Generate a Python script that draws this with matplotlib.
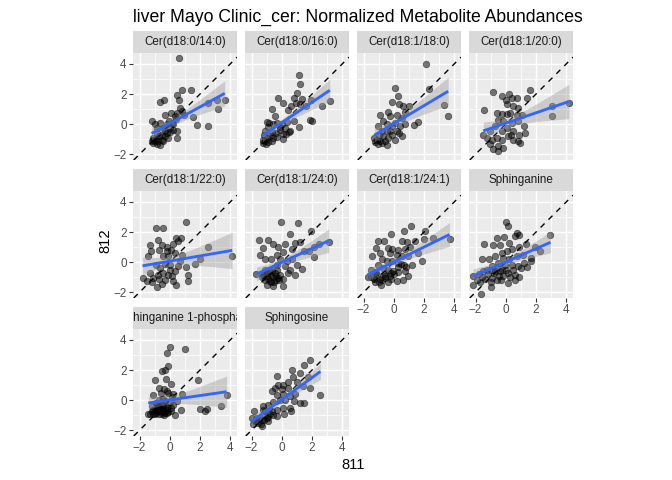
import numpy as np
import matplotlib
matplotlib.use('Agg')
import matplotlib.pyplot as plt

plt.rcParams['font.family'] = ['Liberation Sans', 'DejaVu Sans']

# ---------------------------------------------------------------- data
panel_titles = [
    'Cer(d18:0/14:0)', 'Cer(d18:0/16:0)', 'Cer(d18:1/18:0)', 'Cer(d18:1/20:0)',
    'Cer(d18:1/22:0)', 'Cer(d18:1/24:0)', 'Cer(d18:1/24:1)', 'Sphinganine',
    'Sphinganine 1-phosphate', 'Sphingosine',
]

p1_x = [0.64, -0.64, -0.4, 0.82, 1.42, 0.51, 0.64, 0.69, 0.8, 0.47, 0.07, -0.31,
        3.13, 3.64, 2.51, 3.18, 2.56, 1.8, 1.51, 0.96, 0.36, -1.16, -0.98, -0.64,
        -0.2, 0.13, 0.42, 0.24, 0.47, 0.02, -0.31, -0.53, -0.87, -1.09, -1.2, -0.98,
        -0.76, -0.53, -0.31, -0.2, -0.09, -0.64, -0.87, -1.09, -0.42, -0.47, -0.82,
        -0.69, 0.02, -0.04, 0.24, -1.1, -0.91, 0.47]
p1_y = [4.42, 1.49, 1.58, 2.29, 2.29, 1.93, 1.58, 1.07, 0.87, 0.71, 0.71, 0.58,
        1.62, 1.64, 1.4, 1.0, -0.11, -0.07, 0.47, 0.64, 0.53, 0.24, -0.02, 0.09,
        -0.02, 0.09, 0.33, -0.36, -0.91, -0.51, -0.42, -0.69, -0.58, -0.91, -1.13, -1.13,
        -1.09, -1.02, -0.8, -0.58, -0.91, -1.36, -1.31, -1.24, -1.13, -0.24, -0.24,
        -0.8, -0.24, 0.24, -0.02, -1.02, -0.96, -0.42]

p2_x = [1.11, 1.22, 1.04, -0.22, 0.07, 0.78, 0.96, 1.33, 0.6, 0.44, 1.18, 1.58,
        1.93, 3.18, 2.69, 1.89, 2.0, -0.67, -0.44, -1.0, -0.82, -0.33, 0.0, 0.33,
        0.78, 1.11, 0.51, 0.11, 0.07, 0.56, -0.11, -0.38, -0.67, -0.89, -1.11, -1.18,
        -1.27, -1.11, -0.89, -0.67, -0.56, -1.0, -0.78, -0.33, -1.27, -1.04, 0.29,
        -0.11, 0.22, -0.56]
p2_y = [3.27, 2.64, 2.09, 1.76, 1.4, 1.76, 1.4, 1.69, 1.24, 0.96, 1.36, 1.24,
        1.64, 1.53, 1.2, 0.31, 0.24, 1.02, 0.53, 0.16, 0.07, 0.09, 0.02, 0.16,
        0.2, -0.18, -0.51, -0.64, -0.98, -0.42, -0.36, -0.58, -0.51, -0.2, -0.47, -0.69,
        -1.02, -1.13, -1.18, -1.09, -0.91, -0.91, -0.8, -0.87, -1.24, -1.31, -0.64,
        -0.2, -0.24, -0.02]

p3_x = [2.13, 2.36, 0.09, -0.13, 0.31, 0.36, 0.64, 1.02, 3.31, 3.6, 1.6, 1.33,
        -0.91, -0.4, -0.24, 0.2, 0.53, 0.76, 0.09, 0.42, -0.13, -0.47, -0.69, -1.02,
        -0.8, -0.47, -0.13, 0.2, -0.36, -0.69, -1.13, -1.24, -1.02, -0.8, -0.91, -0.58,
        -1.29, -0.24, 0.76, 0.36, 0.09, -0.47, -0.98, 0.53]
p3_y = [3.98, 2.31, 2.38, 1.49, 1.87, 1.31, 1.2, 1.2, 1.27, 0.53, 0.16, -0.07,
        0.64, 0.82, 0.53, 0.64, 0.42, 0.82, 0.09, -0.13, -0.13, -0.02, 0.2, -0.13,
        -0.47, -0.47, -0.69, -0.42, -0.91, -0.8, -1.02, -1.18, -1.31, -1.24, -1.09, -1.13,
        -0.91, -0.42, -0.02, -0.58, -1.02, -1.4, -0.69, -0.8]

p4_x = [-0.82, -0.27, 0.0, 0.22, 0.4, 0.73, 1.62, 1.4, 0.07, 0.51, 0.84, -1.42,
        -0.6, -0.27, 0.07, 0.29, 0.73, 1.07, 3.07, 3.07, 4.18, -0.53, -0.16, 0.4,
        0.84, 1.18, 1.29, 0.89, 0.51, 0.07, -0.27, -0.71, -1.04, -1.49, -1.27, -0.93,
        -0.6, -0.27, 0.13, 0.51, 0.8, 0.96, -0.49, -0.82, -0.53, -0.16, -1.04, 0.36]
p4_y = [2.16, 1.87, 1.64, 1.98, 1.71, 1.76, 2.24, 1.76, 1.31, 1.2, 1.09, 0.93,
        0.76, 0.69, 0.69, 0.76, 0.6, 0.64, 1.2, 0.53, 1.38, 0.31, 0.2, 0.09,
        0.2, -0.13, -0.58, -0.69, -0.42, -0.24, -0.42, -0.13, -0.42, -0.69, -0.91, -1.02,
        -0.91, -1.02, -0.8, -1.02, -1.13, -1.24, -1.47, -1.62, -1.8, -1.58, -1.31, -0.69]

p5_x = [1.09, -0.93, -0.42, -0.76, -1.31, -1.27, -1.42, -0.53, -0.2, -0.69, 0.42, 0.73,
        0.58, 0.24, 0.07, -0.2, -0.09, -0.42, 0.36, 0.8, 2.53, 1.98, 1.69, 4.13,
        1.09, 1.18, 1.18, 0.58, 0.36, 0.02, -0.31, -0.64, -0.91, -1.31, -1.13, -0.76,
        -0.42, -0.09, 0.13, 0.24, 0.42, -0.69, -0.53, -0.87, -1.2, -1.8, -1.53, -0.31,
        0.02, 0.69]
p5_y = [2.69, 2.24, 2.24, 1.47, 1.11, 0.73, 0.4, 1.11, 1.02, 0.84, 1.62, 1.62,
        1.4, 1.18, 0.84, 0.73, 0.4, 0.4, 0.62, 0.51, 1.02, 0.24, -0.11, 0.4,
        -0.31, -0.82, -1.27, -0.27, -0.6, -0.16, -0.09, -0.38, -0.22, -0.71, -1.04, -0.82,
        -0.71, -0.82, -0.93, -1.27, -1.49, -1.11, -1.42, -1.67, -1.33, -1.04, -1.27, -1.16,
        -0.49, 0.07]

p6_x = [-0.04, 1.07, 0.56, 1.93, -1.49, -0.89, -0.56, -1.22, -1.44, -0.22, 0.22, 0.89,
        1.22, 0.67, 1.49, 1.78, 2.11, 2.44, 3.11, 2.16, 0.07, -0.33, -0.73, -1.11,
        -0.11, 0.33, 0.67, 1.0, 1.33, 0.89, 0.56, 0.22, -0.33, -0.67, -1.11, -1.27,
        -1.0, -0.73, -0.44, -0.11, 0.11, -0.38, -0.78, -1.0, -0.56, 0.07, -1.67, -0.22,
        0.44, -1.3, -1.1, -0.9, -0.8, -0.6, -0.5, -1.2, -0.4, -0.2, -1.0, -0.7, -0.3]
p6_y = [2.69, 2.62, 1.84, 2.07, 1.47, 1.47, 1.18, 0.96, 0.51, 1.02, 1.18, 1.29,
        1.33, 0.89, 0.73, 0.73, 1.02, 1.18, 1.33, 0.36, 0.67, 0.51, 0.22, 0.18,
        0.18, 0.07, 0.18, -0.22, -0.44, -0.82, -0.49, -0.27, -0.22, -0.49, -0.49, -0.82,
        -0.93, -0.82, -0.71, -0.82, -1.11, -1.16, -1.27, -1.49, -1.56, -1.56, -0.76, -1.04,
        -0.71, -1.0, -1.2, -1.1, -0.6, -1.0, -1.3, -0.7, -0.9, -1.2, -0.75, -1.35, -0.5]

p7_x = [1.16, 0.71, 2.09, 2.58, 3.69, 1.98, -0.18, -1.07, -0.62, 0.53, 0.87, 1.38,
        -1.2, -0.4, -0.09, 0.31, 0.76, 1.09, -1.47, -0.91, -0.24, 0.2, 0.53, 0.93,
        1.6, 1.87, -0.8, -0.47, -0.09, 0.31, 0.71, -1.02, -1.51, -1.2, -0.69, -0.36,
        -0.02, 0.31, 0.76, 0.93, 0.58, 0.2, -0.18, -0.58, -0.91, -0.84, -1.24, -1.73,
        -0.18, -1.5, -1.3, -1.1, -0.95, -0.75, -0.55, -0.4, -1.25, -0.65, -0.25,
        0.3, 0.5, 0.0, 0.8, 1.2]
p7_y = [2.4, 2.07, 2.07, 1.62, 1.51, 1.51, 1.84, 1.44, 1.44, 1.4, 1.33, 1.4,
        0.96, 0.96, 0.89, 0.84, 0.89, 1.02, 0.44, 0.62, 0.62, 0.51, 0.4, 0.4,
        0.58, 0.07, 0.18, 0.07, 0.07, -0.04, -0.22, -0.22, -0.49, -0.67, -0.38, -0.49,
        -0.6, -0.67, -0.6, -0.93, -1.2, -1.27, -1.11, -0.93, -1.11, -1.49, -1.33, -0.98,
        -0.71, -1.0, -1.15, -0.85, -1.3, -1.2, -1.05, -1.3, -0.75, -0.8, -0.9,
        -0.3, -0.1, -0.8, -0.3, -0.2]

p8_x = [0.0, 0.13, 0.73, 0.58, 0.89, -0.09, -0.6, 2.96, -1.42, -0.82, -0.38, 0.22,
        0.4, 0.89, 1.33, 1.96, 2.29, -1.6, -1.11, -0.71, -0.27, 0.07, -0.16, 0.22,
        0.73, 1.11, 1.69, 1.69, 1.24, 0.8, 0.4, -0.04, -0.49, -0.93, -1.27, -0.71,
        -0.27, 0.18, 0.58, 0.89, 0.13, -0.44, -0.93, -1.6, -2.16, -0.98, -1.64, -2.16,
        -1.9, -1.7, -1.4, -1.2, -1.0, -0.8, -0.6, -1.5, -0.4, -1.8,
        -0.2, 0.3, 0.5, 1.0, -0.6, 0.0, -1.0, 0.6, 1.4, -0.3]
p8_y = [2.67, 2.4, 1.91, 1.73, 1.78, 1.69, 1.62, 1.78, 1.18, 1.11, 1.11, 1.29,
        0.89, 1.02, 1.18, 1.02, 0.73, 0.22, 0.22, 0.4, 0.62, 0.73, 0.29, 0.18,
        0.4, 0.51, 0.29, 0.07, -0.04, -0.27, -0.22, -0.16, -0.04, -0.27, -0.49, -0.6,
        -0.49, -0.71, -0.82, -0.98, -1.38, -0.93, -1.04, -0.98, -1.49, -1.64, -2.09, -0.93,
        -1.2, -1.3, -1.1, -0.8, -1.3, -0.75, -1.2, -0.6, -0.6, -0.8,
        -0.9, -1.0, -0.5, -0.4, -0.3, -0.5, -0.5, -1.2, -0.3, -1.2]

p9_x = [0.02, -0.2, 1.02, -0.09, -0.53, -0.31, -0.98, -0.24, 0.07, 1.87, -0.69, -0.38,
        -1.13, -0.6, -0.16, -0.09, 0.24, 0.8, 3.76, 3.4, 2.47, 1.98, 2.36, 0.73,
        0.36, -1.42, -1.09, -0.76, -0.53, -0.31, 0.02, 0.24, 0.47, -0.2, -0.87, -0.53,
        -0.2, -1.2, -0.42, 0.13, -0.69, -0.91, 0.07, -1.09,
        -0.9, -0.8, -0.7, -0.6, -0.5, -0.4, -0.3, -0.2, -0.1, -0.65, -0.45, -0.85,
        -0.35, -0.15, -0.75, -0.55, 0.1, -1.0, -1.3, -1.2, -1.0]
p9_y = [3.56, 3.16, 3.42, 2.27, 1.93, 1.98, 1.31, 1.38, 1.09, 1.33, 0.82, 0.76,
        0.33, 0.49, 0.6, 0.49, 0.38, 0.38, 0.33, -0.4, -0.56, -0.58, -0.69, -0.62,
        -0.96, -0.89, -0.62, -0.47, -0.29, -0.07, -0.11, -0.29, -0.07, -0.51, -0.73, -0.78,
        -0.84, -0.4, 0.11, 0.2, -0.02, -0.18, -0.51, -0.91,
        -0.85, -0.7, -0.9, -0.6, -0.95, -0.7, -0.85, -0.65, -0.8, -0.45, -0.4, -0.55,
        -1.0, -0.45, -0.3, -0.75, -0.7, -0.65, -0.9, -0.75, -0.95]

p10_x = [1.89, 1.44, 0.67, -0.33, 1.22, 1.71, 0.73, 0.4, 0.07, -0.22, 1.0, 1.4,
         1.84, 0.44, 0.0, -0.44, -0.67, -0.33, 0.11, 0.56, 0.89, 2.56, 1.18, 1.49,
         0.82, 0.22, -0.11, -0.56, -0.89, -1.22, -1.84, -1.27, -0.67, -0.33, 0.07, 0.56,
         0.6, 0.16, -0.33, -0.89, -1.11, -1.33, -1.67, -2.0, -1.93, -1.33, -0.89,
         -1.8, -1.6, -1.5, -1.2, -1.0, -0.8, -1.4, -0.6, -1.1, -1.7]
p10_y = [2.64, 2.33, 1.98, 1.64, 1.78, 1.53, 1.53, 1.22, 1.0, 1.04, 1.22, 0.93,
         0.82, 0.82, 0.71, 0.82, 0.6, 0.33, 0.38, 0.27, 0.42, 0.33, -0.18, -0.18,
         -0.07, -0.02, -0.02, -0.11, -0.33, -0.62, -0.69, -0.4, -0.73, -0.62, -0.51, -0.51,
         -0.69, -0.91, -1.07, -1.13, -0.96, -1.29, -1.36, -1.18, -1.58, -1.69, -1.4,
         -1.4, -1.5, -1.2, -1.3, -1.2, -0.9, -1.6, -1.0, -0.75, -1.2]

panel_x = [p1_x, p2_x, p3_x, p4_x, p5_x, p6_x, p7_x, p8_x, p9_x, p10_x]
panel_y = [p1_y, p2_y, p3_y, p4_y, p5_y, p6_y, p7_y, p8_y, p9_y, p10_y]

axis_ticks = [-2, 0, 2, 4]
minor_ticks = [-1, 1, 3]

# ---------------------------------------------------------------- style
C_PANEL = '#EBEBEB'
C_STRIP = '#D9D9D9'
C_TICKLAB = '#4D4D4D'
C_TICK = '#333333'
C_SMOOTH = '#3366FF'

W, H = 672, 480
col_left = [133, 245, 357, 469]
row_top = [53, 191, 329]
pw, ph, sh = 104, 107, 22
XLIM = (-2.43, 4.45)
YLIM = (-2.38, 4.73)

fig = plt.figure(figsize=(W / 100, H / 100), dpi=100, facecolor='white')

for i, title in enumerate(panel_titles):
    r, c = divmod(i, 4)
    l, t = col_left[c], row_top[r]
    ax = fig.add_axes([l / W, 1 - (t + ph) / H, pw / W, ph / H])
    ax.set_facecolor(C_PANEL)
    for s in ax.spines.values():
        s.set_visible(False)
    ax.set_xlim(*XLIM)
    ax.set_ylim(*YLIM)
    ax.set_xticks(axis_ticks)
    ax.set_yticks(axis_ticks)
    ax.set_xticks(minor_ticks, minor=True)
    ax.set_yticks(minor_ticks, minor=True)
    ax.grid(True, which='major', color='white', linewidth=1.05)
    ax.grid(True, which='minor', color='white', linewidth=0.55)
    ax.set_axisbelow(True)
    ax.tick_params(which='minor', length=0)
    ax.tick_params(which='major', length=2.6, width=0.8, color=C_TICK,
                   labelcolor=C_TICKLAB, labelsize=8.4, pad=2)

    show_y = c == 0
    show_x = (r == 2) or (r == 1 and c >= 2)
    if not show_y:
        ax.tick_params(axis='y', length=0, labelleft=False)
    if not show_x:
        ax.tick_params(axis='x', length=0, labelbottom=False)

    x = np.array(panel_x[i])
    y = np.array(panel_y[i])

    # identity line
    ax.axline((0, 0), slope=1, color='black', linewidth=1.0,
              linestyle=(0, (4, 4)), zorder=2)

    ax.scatter(x, y, s=22, facecolor=(0, 0, 0, 0.52),
               edgecolor=(0, 0, 0, 0.55), linewidth=0.5, zorder=3)

    # linear fit + 95% band (geom_smooth(method='lm'))
    b, a = np.polyfit(x, y, 1)
    xs = np.linspace(x.min(), x.max(), 80)
    fit = a + b * xs
    n = len(x)
    resid = y - (a + b * x)
    s_err = np.sqrt(np.sum(resid ** 2) / (n - 2))
    se = s_err * np.sqrt(1 / n + (xs - x.mean()) ** 2 / np.sum((x - x.mean()) ** 2))
    ax.fill_between(xs, fit - 2.0 * se, fit + 2.0 * se, color='#999999',
                    alpha=0.4, linewidth=0, zorder=4)
    ax.plot(xs, fit, color=C_SMOOTH, linewidth=2.05, zorder=5,
            solid_capstyle='butt')

    # strip
    sax = fig.add_axes([l / W, 1 - t / H, pw / W, sh / H])
    sax.set_facecolor(C_STRIP)
    sax.set_xticks([])
    sax.set_yticks([])
    for s in sax.spines.values():
        s.set_visible(False)
    sax.text(0.5, 0.5, title, ha='center', va='center', fontsize=8.4,
             color='#1A1A1A', transform=sax.transAxes, clip_on=True)

fig.text(133 / W, 1 - 22 / H, 'liver Mayo Clinic_cer: Normalized Metabolite Abundances',
         ha='left', va='baseline', fontsize=12.7, color='black')
fig.text(353 / W, 1 - 465 / H, '811', ha='center', va='center', fontsize=10.6)
fig.text(105 / W, 1 - 241 / H, '812', ha='center', va='center', fontsize=10.6,
         rotation=90)

fig.savefig('out.png', dpi=100, facecolor='white')
